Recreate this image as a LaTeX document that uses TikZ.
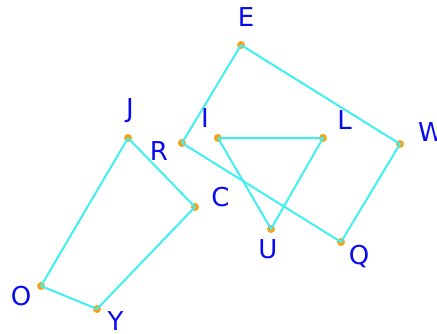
\documentclass[tikz,border=0pt]{standalone}
\usepackage{fontspec}
\setmainfont{DejaVu Sans}
\definecolor{aquaC}{RGB}{64,240,240}
\definecolor{dotC}{RGB}{250,160,20}
\definecolor{txtC}{RGB}{10,10,240}
\begin{document}
\begin{tikzpicture}[x=1pt,y=-1pt,
  pt/.style={circle,fill=dotC,inner sep=0pt,minimum size=8pt},
  lbl/.style={text=txtC,inner sep=0pt,font=\fontsize{26}{30}\selectfont},
  edge/.style={draw=aquaC,line width=2pt}]
\useasboundingbox (0,0) rectangle (437,333);
\node[pt] (E) at (241,45) {};
\node[pt] (W) at (400,144) {};
\node[pt] (Q) at (341,242) {};
\node[pt] (R) at (182,143) {};
\node[pt] (J) at (128,138) {};
\node[pt] (C) at (195,207) {};
\node[pt] (Y) at (97,309) {};
\node[pt] (O) at (41,286) {};
\node[pt] (I) at (218,138) {};
\node[pt] (L) at (323,138) {};
\node[pt] (U) at (271,229) {};
\draw[edge] (E.center) -- (W.center) -- (Q.center) -- (R.center) -- (E.center);
\draw[edge] (I.center) -- (L.center) -- (U.center) -- (I.center);
\draw[edge] (J.center) -- (C.center) -- (Y.center) -- (O.center) -- (J.center);
\node[lbl] (lE) at (246,17) {E};
\node[lbl] (lW) at (431,132) {W};
\node[lbl] (lQ) at (359,257) {Q};
\node[lbl] (lR) at (159,151) {R};
\node[lbl] (lJ) at (130,111) {J};
\node[lbl] (lC) at (220.5,197.5) {C};
\node[lbl] (lY) at (115.5,321) {Y};
\node[lbl] (lO) at (21,296) {O};
\node[lbl] (lI) at (205,118) {I};
\node[lbl] (lL) at (344.5,120) {L};
\node[lbl] (lU) at (268,249.5) {U};
\end{tikzpicture}
\end{document}
